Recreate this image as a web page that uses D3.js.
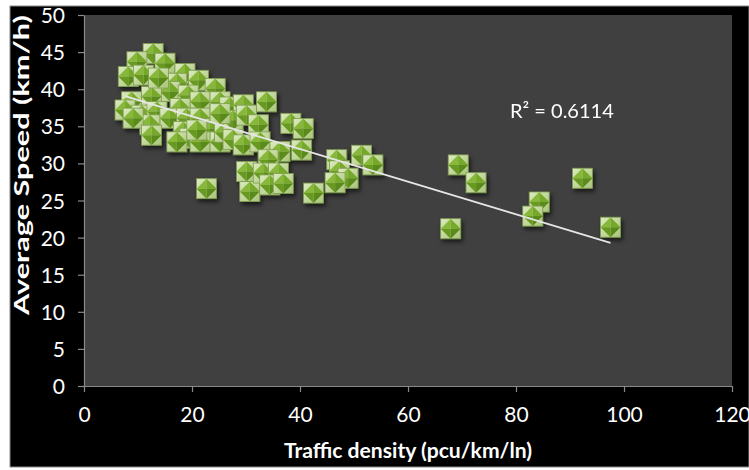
<!DOCTYPE html>
<html>
<head>
<meta charset="utf-8">
<script src="https://cdn.jsdelivr.net/npm/d3@7"></script>
<style>
  html, body { margin: 0; padding: 0; background: #fff; }
  svg { display: block; }
</style>
</head>
<body>
<div id="chart"></div>
<script>
// traffic density (pcu/km/ln) vs average speed (km/h)
const density = [
  12.8, 9.8, 15.0, 8.2, 11.0, 18.7, 21.2, 17.2, 24.3, 15.9,
  19.3, 8.8, 12.5, 21.5, 25.2, 7.6, 10.7, 13.5, 17.8, 15.9,
  12.2, 9.1, 19.0, 21.5, 23.3, 18.4, 19.6, 17.2, 21.5, 25.2,
  13.8, 20.9, 27.0, 29.5, 33.8, 26.0, 27.6, 30.1, 27.6, 29.5,
  32.3, 32.6, 38.3, 40.6, 36.3, 40.3, 34.1, 30.1, 30.7, 33.2,
  36.0, 34.4, 36.9, 42.5, 22.7, 46.8, 47.3, 25.2, 51.4, 53.5,
  48.9, 46.5, 69.3, 72.6, 67.9, 84.3, 83.1, 92.3, 97.5, 12.5
];
const speed = [
  44.8, 43.7, 43.5, 41.7, 41.9, 42.1, 41.2, 40.8, 40.1, 39.7,
  39.2, 38.3, 39.0, 38.3, 38.3, 37.2, 36.5, 37.0, 37.4, 36.1,
  35.2, 36.1, 36.1, 36.1, 34.7, 34.3, 33.4, 32.9, 32.9, 32.9,
  41.5, 34.5, 37.6, 37.9, 38.3, 34.2, 35.8, 36.5, 33.2, 32.5,
  35.2, 32.9, 35.4, 34.7, 31.6, 31.8, 30.5, 28.9, 26.2, 28.7,
  28.7, 27.1, 27.3, 26.0, 26.6, 30.5, 29.0, 36.7, 31.1, 29.8,
  28.0, 27.4, 29.8, 27.4, 21.2, 24.8, 22.9, 28.0, 21.4, 33.8
];
const xTicks = [0, 20, 40, 60, 80, 100, 120];
const yTicks = [0, 5, 10, 15, 20, 25, 30, 35, 40, 45, 50];
// linear trendline y = a*x + b
const trendCoef = [-0.22, 40.74];
const rSquared = "0.6114";

const W = 749, H = 470;
const margin = { top: 15, right: 17, bottom: 84, left: 84 };
const pw = W - margin.left - margin.right;
const ph = H - margin.top - margin.bottom;
const font = "Lato, 'Open Sans', sans-serif";

const svg = d3.select("#chart").append("svg")
  .attr("width", W).attr("height", H);

const defs = svg.append("defs");
const f = defs.append("filter").attr("id", "shadow")
  .attr("x", "-50%").attr("y", "-50%").attr("width", "200%").attr("height", "200%");
f.append("feDropShadow").attr("dx", 2).attr("dy", 3)
  .attr("stdDeviation", 2).attr("flood-color", "#000").attr("flood-opacity", 0.6);

const sq = defs.append("linearGradient").attr("id", "sqGrad")
  .attr("x1", 0).attr("y1", 0).attr("x2", 1).attr("y2", 1);
sq.append("stop").attr("offset", "0%").attr("stop-color", "#dcebc0");
sq.append("stop").attr("offset", "100%").attr("stop-color", "#a9c47a");

// outer chart background
svg.append("rect")
  .attr("x", 10).attr("y", 6).attr("width", W - 10).attr("height", 461)
  .attr("fill", "#000").attr("stroke", "#8a8a8a").attr("stroke-width", 1);

const g = svg.append("g").attr("transform", `translate(${margin.left},${margin.top})`);

g.append("rect").attr("width", pw).attr("height", ph).attr("fill", "#404040");

const x = d3.scaleLinear().domain([0, 120]).range([0, pw]);
const y = d3.scaleLinear().domain([0, 50]).range([ph, 0]);

const xAxis = g.append("g").attr("transform", `translate(0,${ph})`)
  .call(d3.axisBottom(x).tickValues(xTicks).tickSize(6).tickPadding(15).tickSizeOuter(0));
const yAxis = g.append("g")
  .call(d3.axisLeft(y).tickValues(yTicks).tickSize(6).tickPadding(13).tickSizeOuter(0));

[xAxis, yAxis].forEach(a => {
  a.select(".domain").attr("stroke", "#8a8a8a").attr("stroke-width", 1.2);
  a.selectAll(".tick line").attr("stroke", "#8a8a8a").attr("stroke-width", 1.2);
  a.selectAll("text").attr("fill", "#fff").style("font-family", font).style("font-size", "21px");
});
yAxis.selectAll("text").attr("dy", "0.36em");

// markers
const pts = density.map((d, i) => ({ x: d, y: speed[i] }));
const mk = g.append("g").attr("filter", "url(#shadow)");
const s = 10, dm = 10;
pts.forEach(p => {
  const m = mk.append("g").attr("transform", `translate(${x(p.x)},${y(p.y)})`);
  m.append("rect").attr("x", -s).attr("y", -s).attr("width", 2 * s).attr("height", 2 * s)
    .attr("fill", "url(#sqGrad)").attr("stroke", "#7e9c4c").attr("stroke-width", 0.8);
  const facets = [
    [[-dm, 0], [0, -dm], "#88b83a"],
    [[0, -dm], [dm, 0], "#76a82b"],
    [[dm, 0], [0, dm], "#5a891b"],
    [[0, dm], [-dm, 0], "#689a23"]
  ];
  facets.forEach(([a, b, c]) => {
    m.append("path").attr("d", `M0,0L${a[0]},${a[1]}L${b[0]},${b[1]}Z`).attr("fill", c);
  });
});

// trendline
const [tx0, tx1] = d3.extent(density);
g.append("line")
  .attr("x1", x(tx0)).attr("y1", y(trendCoef[0] * tx0 + trendCoef[1]))
  .attr("x2", x(tx1)).attr("y2", y(trendCoef[0] * tx1 + trendCoef[1]))
  .attr("stroke", "#e6e6e6").attr("stroke-width", 1.6);

g.append("text")
  .attr("x", 426).attr("y", 103)
  .attr("fill", "#fff").style("font-family", font).style("font-size", "20px")
  .text(`R² = ${rSquared}`);

// axis titles
svg.append("text")
  .attr("x", margin.left + pw / 2).attr("y", 458)
  .attr("text-anchor", "middle").attr("fill", "#fff")
  .attr("textLength", 248).attr("lengthAdjust", "spacingAndGlyphs")
  .style("font-family", font).style("font-size", "20px").style("font-weight", "bold")
  .text("Traffic density (pcu/km/ln)");

svg.append("text")
  .attr("transform", "translate(29,165) rotate(-90)")
  .attr("text-anchor", "middle").attr("fill", "#fff")
  .attr("textLength", 300).attr("lengthAdjust", "spacingAndGlyphs")
  .style("font-family", font).style("font-size", "20px").style("font-weight", "bold")
  .text("Average Speed (km/h)");
</script>
</body>
</html>
